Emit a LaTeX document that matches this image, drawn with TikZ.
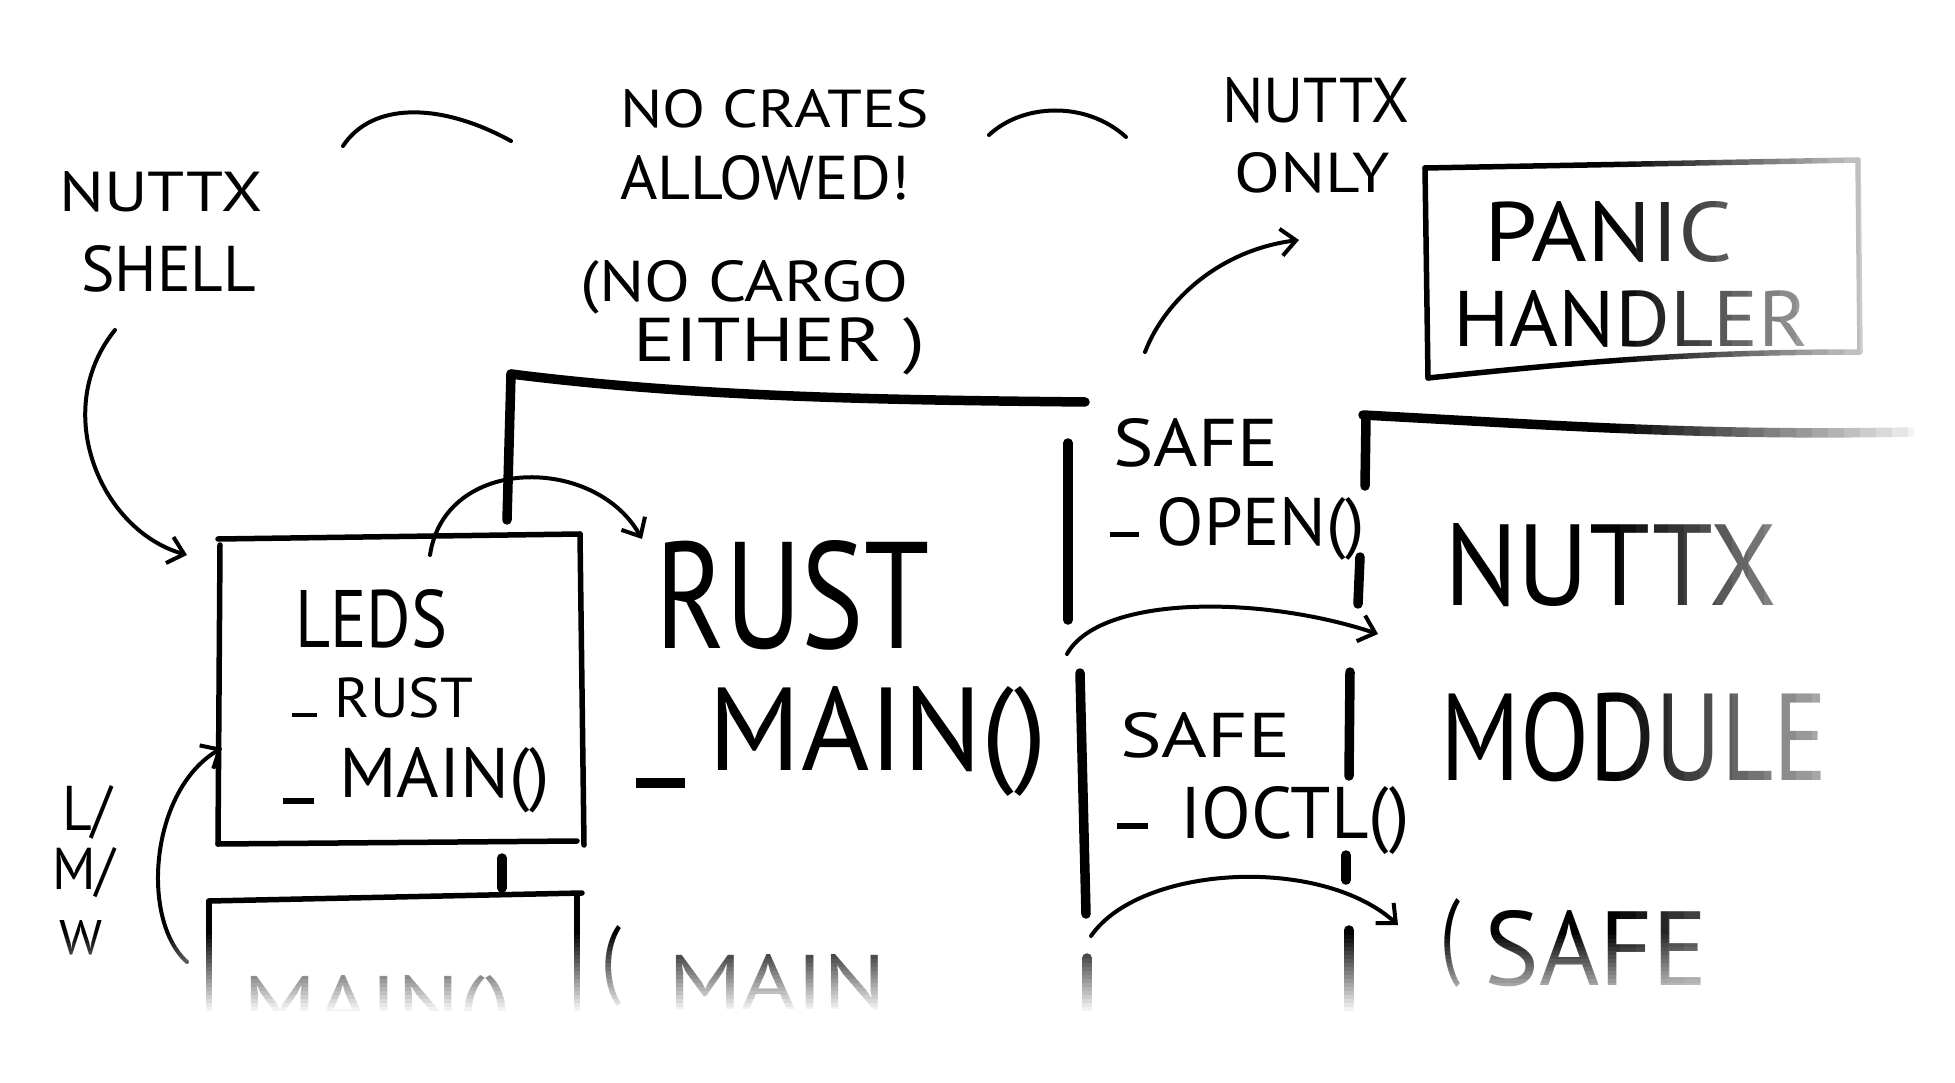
\documentclass[tikz,border=0pt]{standalone}
\usepackage{fontspec}
\setmainfont{PT Sans}
\usetikzlibrary{arrows.meta}
\newcommand\hw[3]{\resizebox{#1pt}{#2pt}{#3}}
\newcommand\us[2]{\rule[#1]{0.42em}{0.08em}\hspace{#2}}
\tikzset{
  ink/.style={line cap=round, line join=round, draw=black},
  thinpen/.style={ink, line width=4pt},
  boxpen/.style={ink, line width=5.5pt},
  thickpen/.style={ink, line width=9.5pt},
  arrowpen/.style={ink, line width=4pt, -{Straight Barb[length=15pt,width=27pt]}},
  lbl/.style={inner sep=0pt, anchor=base west, text=black},
}
\begin{document}
\begin{tikzpicture}[x=1pt,y=-1pt]
\useasboundingbox (0,0) rectangle (1955,1083);
\fill[white] (0,0) rectangle (1955,1083);

% ---------- top annotations ----------
\node[lbl] (crates1) at (620,128) {\hw{309}{38}{NO CRATES}};
\node[lbl] (crates2) at (620,200) {\hw{290}{44}{ALLOWED!}};
\node[lbl] (cargo1) at (580,302) {\hw{328}{41}{(NO CARGO}};
\node[lbl] (cargo2) at (633,362) {\hw{292}{44}{EITHER )}};
\node[lbl] (shell1) at (59,212) {\hw{203}{40}{NUTTX}};
\node[lbl] (shell2) at (81,291) {\hw{175}{46}{SHELL}};
\node[lbl] (only1) at (1222,123) {\hw{187}{45}{NUTTX}};
\node[lbl] (only2) at (1234,193) {\hw{156}{40}{ONLY}};

% decorative arcs
\coordinate (arcAs) at (343,146); \coordinate (arcAe) at (511,141);
\coordinate (arcBs) at (989,135); \coordinate (arcBe) at (1126,137);
\draw[thinpen] (arcAs) .. controls (372,102) and (440,102) .. (arcAe);
\draw[thinpen] (arcBs) .. controls (1022,104) and (1085,100) .. (arcBe);

% ---------- panic handler box ----------
\coordinate (pTL) at (1425,168); \coordinate (pTR) at (1858,160);
\coordinate (pBR) at (1860,352); \coordinate (pBL) at (1428,378);
\draw[boxpen] (pTL) -- (pTR);
\draw[boxpen] (pTL) -- (pBL);
\draw[boxpen] (pTR) -- (pBR);
\draw[boxpen] (pBL) .. controls (1600,360) and (1700,352) .. (pBR);
\node[lbl] (panic1) at (1484,262) {\hw{249}{60}{PANIC}};
\node[lbl] (panic2) at (1453,347) {\hw{355}{56}{HANDLER}};

% ---------- rust bracket ----------
\coordinate (rTL) at (511,374); \coordinate (rTR) at (1085,402);
\draw[thickpen] (rTL) .. controls (700,398) and (900,400) .. (rTR);
\draw[thickpen] (rTL) -- (507,520);
\draw[thickpen] (502,858) -- (502,888);
\node[lbl] (rust) at (655,648) {\hw{274}{108}{RUST}};
\node[lbl] (rustmain) at (636,770) {\hw{411}{84}{\us{-0.15em}{0.2em}MAIN()}};
\node[lbl] (mainp) at (601,987) {\hw{20}{62}{(}};
\node[lbl] (mainw) at (668,1009) {\hw{218}{55}{MAIN}};

% ---------- leds box ----------
\coordinate (lTL) at (218,539); \coordinate (lTR) at (580,534);
\coordinate (lBR) at (584,845); \coordinate (lBL) at (218,844);
\draw[boxpen] (lTL) -- (lTR);
\draw[boxpen] (220,545) -- (lBL);
\draw[boxpen] (lTR) -- (lBR);
\draw[boxpen] (lBL) -- (577,841);
\node[lbl] (leds1) at (295,647) {\hw{152}{58}{LEDS}};
\node[lbl] (leds2) at (292,717) {\hw{181}{40}{\us{0em}{0.3em}RUST}};
\node[lbl] (leds3) at (283,797) {\hw{267}{50}{\us{-0.1em}{0.35em}MAIN()}};

% lower box
\coordinate (bTL) at (209,901); \coordinate (bTR) at (582,893);
\draw[boxpen] (bTL) -- (bTR);
\draw[boxpen] (bTL) -- (209,1012);
\draw[boxpen] (577,895) -- (577,1012);
\node[lbl] (lowmain) at (243,1030) {\hw{268}{55}{MAIN()}};

% L/M/W
\node[lbl] (lmw1) at (62,830) {\hw{50}{45}{L/}};
\node[lbl] (lmw2) at (52,889) {\hw{63}{42}{M/}};
\node[lbl] (lmw3) at (59,954) {\hw{43}{34}{W}};

% ---------- safe column ----------
\draw[thickpen] (1068,443) -- (1068,620);
\node[lbl] (safe1) at (1113,466) {\hw{165}{48}{SAFE}};
\node[lbl] (open) at (1110,545) {\hw{255}{48}{\us{0.12em}{0.25em}OPEN()}};
\draw[thickpen] (1080,673) -- (1086,914);
\draw[thickpen] (1350,672) -- (1349,776);
\draw[thickpen] (1346,855) -- (1346,880);
\node[lbl] (safe2) at (1120,757) {\hw{170}{45}{SAFE}};
\node[lbl] (ioctl) at (1117,838) {\hw{292}{52}{\us{0.12em}{0.45em}IOCTL()}};
\draw[thickpen] (1087,958) -- (1087,1012);
\draw[thickpen] (1349,930) -- (1349,1012);

% ---------- nuttx module bracket ----------
\coordinate (nTL) at (1363,415); \coordinate (nTR) at (1910,432);
\draw[thickpen] (nTL) .. controls (1550,425) and (1700,436) .. (nTR);
\draw[thickpen] (1366,418) -- (1365,486);
\draw[thickpen] (1360,557) -- (1358,604);
\node[lbl] (nuttx) at (1444,605) {\hw{333}{82}{NUTTX}};
\node[lbl] (module) at (1440,780) {\hw{387}{88}{MODULE}};
\node[lbl] (safep) at (1440,966) {\hw{20}{68}{(}};
\node[lbl] (safew) at (1484,985) {\hw{224}{75}{SAFE}};

% ---------- arrows ----------
\coordinate (shS) at (115,330); \coordinate (shE) at (187,555);
\draw[arrowpen] (shS) .. controls (50,410) and (100,530) .. (shE);
\coordinate (ruS) at (430,555); \coordinate (ruE) at (642,539);
\draw[arrowpen] (ruS) .. controls (445,455) and (595,455) .. (ruE);
\coordinate (onS) at (1145,352); \coordinate (onE) at (1299,240);
\draw[arrowpen] (onS) .. controls (1165,300) and (1220,250) .. (onE);
\coordinate (lmS) at (187,962); \coordinate (lmE) at (222,748);
\draw[arrowpen] (lmS) .. controls (140,920) and (150,790) .. (lmE);
\coordinate (s1S) at (1067,654); \coordinate (s1E) at (1378,634);
\draw[arrowpen] (s1S) .. controls (1100,595) and (1260,595) .. (s1E);
\coordinate (s2S) at (1091,936); \coordinate (s2E) at (1398,925);
\draw[arrowpen] (s2S) .. controls (1140,865) and (1320,855) .. (s2E);

% ---------- fading of the sheet ----------
\foreach \i in {0,...,19}{
  \pgfmathsetmacro\op{(\i+1)/20}
  \fill[white, opacity=\op] (1620+16*\i,150) rectangle (1636+16*\i,1083);
  \fill[white, opacity=\op] (0,935+4*\i) rectangle (1955,939+4*\i);
}
\fill[white] (1940,150) rectangle (1955,1083);
\fill[white] (0,1015) rectangle (1955,1083);
\end{tikzpicture}
\end{document}
